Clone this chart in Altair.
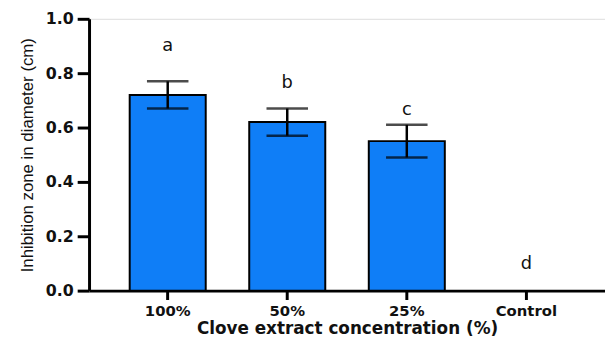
import altair as alt
import pandas as pd

categories = ["100%", "50%", "25%", "Control"]
means = [0.72, 0.62, 0.55, 0.0]
errors = [0.05, 0.05, 0.06, 0.0]
letters = ["a", "b", "c", "d"]
letter_y = [0.90, 0.765, 0.665, 0.097]

df = pd.DataFrame({
    "cat": categories,
    "mean": means,
    "lo": [m - e for m, e in zip(means, errors)],
    "hi": [m + e for m, e in zip(means, errors)],
    "letter": letters,
    "ly": letter_y,
})
bars_df = df[df["mean"] > 0]

xscale = alt.Scale(domain=categories, paddingInner=0.364, paddingOuter=0.34)
yscale = alt.Scale(domain=[0, 1.0])

x = alt.X("cat:N", scale=xscale, sort=categories, title="Clove extract concentration (%)",
          axis=alt.Axis(labelAngle=0, labelFont="DejaVu Sans", labelFontWeight="bold",
                        labelFontSize=15, labelColor="#111", labelPadding=4,
                        titleFont="DejaVu Sans", titleFontWeight="bold", titleFontSize=17,
                        titleColor="#111", titlePadding=2,
                        domainColor="black", domainWidth=3, tickColor="black",
                        tickWidth=3, tickSize=9))
y = alt.Y("mean:Q", scale=yscale, title="Inhibition zone in diameter (cm)",
          axis=alt.Axis(values=[0, 0.2, 0.4, 0.6, 0.8, 1.0], format=".1f", grid=False,
                        labelFont="DejaVu Sans", labelFontWeight="bold", labelFontSize=16,
                        labelColor="#111", labelPadding=4,
                        titleFont="Liberation Sans", titleFontWeight="normal", titleFontSize=17,
                        titleColor="#111", titlePadding=9,
                        domainColor="black", domainWidth=3, tickColor="black",
                        tickWidth=3, tickSize=12))

base = alt.Chart(df)

bars = alt.Chart(bars_df).mark_bar(color="#0F7EF7", stroke="black", strokeWidth=2).encode(x=x, y=y)

rules = alt.Chart(bars_df).mark_rule(color="black", strokeWidth=2.5).encode(
    x=alt.X("cat:N", scale=xscale, sort=categories),
    y=alt.Y("lo:Q", scale=yscale), y2="hi:Q")

caps_hi = alt.Chart(bars_df).mark_tick(color="black", thickness=2.5, size=42).encode(
    x=alt.X("cat:N", scale=xscale, sort=categories),
    y=alt.Y("hi:Q", scale=yscale))
caps_lo = alt.Chart(bars_df).mark_tick(color="black", thickness=2.5, size=42).encode(
    x=alt.X("cat:N", scale=xscale, sort=categories),
    y=alt.Y("lo:Q", scale=yscale))

text = base.mark_text(font="DejaVu Sans", fontSize=18, color="#111", baseline="middle").encode(
    x=alt.X("cat:N", scale=xscale, sort=categories),
    y=alt.Y("ly:Q", scale=yscale),
    text="letter:N")

chart = alt.layer(bars, rules, caps_hi, caps_lo, text).properties(
    width=522, height=275,
    autosize=alt.AutoSizeParams(type="none"),
    padding={"left": 82, "top": 9, "right": 0, "bottom": 47},
).configure_view(stroke=None).configure(background="white")

chart.save("out.html", embed_options={"renderer": "svg", "actions": False})
